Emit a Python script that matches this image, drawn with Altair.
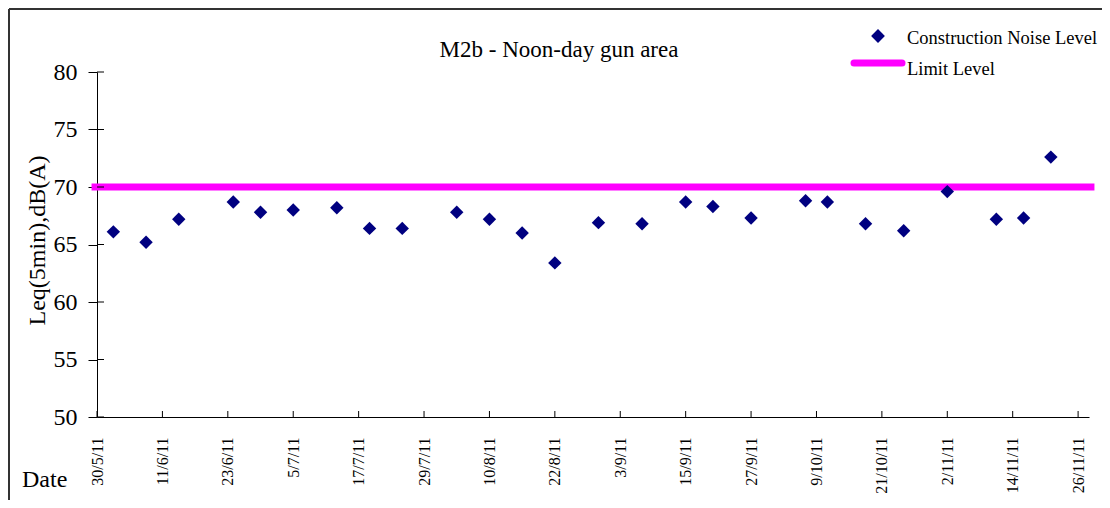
import altair as alt
import pandas as pd

FONT = "Liberation Serif"

# ---- data ----
dates = ["2011-06-02", "2011-06-08", "2011-06-14", "2011-06-24", "2011-06-29",
         "2011-07-05", "2011-07-13", "2011-07-19", "2011-07-25", "2011-08-04",
         "2011-08-10", "2011-08-16", "2011-08-22", "2011-08-30", "2011-09-07",
         "2011-09-15", "2011-09-20", "2011-09-27", "2011-10-07", "2011-10-11",
         "2011-10-18", "2011-10-25", "2011-11-02", "2011-11-11", "2011-11-16",
         "2011-11-21"]
levels = [66.1, 65.2, 67.2, 68.7, 67.8, 68.0, 68.2, 66.4, 66.4, 67.8,
          67.2, 66.0, 63.4, 66.9, 66.8, 68.7, 68.3, 67.3, 68.8, 68.7,
          66.8, 66.2, 69.6, 67.2, 67.3, 72.6]

limit_dates = ["2011-05-29", "2011-11-29"]
limit_values = [70, 70]

tick_dates = ["2011-05-30", "2011-06-11", "2011-06-23", "2011-07-05", "2011-07-17",
              "2011-07-29", "2011-08-10", "2011-08-22", "2011-09-03", "2011-09-15",
              "2011-09-27", "2011-10-09", "2011-10-21", "2011-11-02", "2011-11-14",
              "2011-11-26"]
x_domain = ["2011-05-30", "2011-11-28"]
y_ticks = [50, 55, 60, 65, 70, 75, 80]

title_text = "M2b - Noon-day gun area"
legend_labels = ["Construction Noise Level", "Limit Level"]
y_title = "Leq(5min),dB(A)"
x_title = "Date"

W, H = 992, 345
NAVY = "#000080"
MAGENTA = "#FF00FF"


def ms(d):
    return int(pd.Timestamp(d, tz="UTC").value // 10**6)


x_enc = alt.X(
    "date:T",
    scale=alt.Scale(type="utc", domain=[ms(d) for d in x_domain], nice=False),
    axis=alt.Axis(
        values=[ms(d) for d in tick_dates],
        labelExpr="utcFormat(datum.value, '%-d/%-m/%y')",
        labelAngle=270, labelAlign="right", labelBaseline="middle",
        labelFont=FONT, labelFontSize=16, labelColor="black",
        labelPadding=20, ticks=False, tickSize=0,
        domainColor="black", domainWidth=1, grid=False, title=None,
        labelOverlap=False, labelFlush=False,
    ),
)

y_enc = alt.Y(
    "level:Q",
    scale=alt.Scale(domain=[50, 80], nice=False, zero=False),
    axis=alt.Axis(
        values=y_ticks, tickSize=9, tickColor="black", tickWidth=1,
        labelPadding=11, labelFont=FONT, labelFontSize=24, labelColor="black",
        domainColor="black", domainWidth=1, grid=False,
        title=y_title, titleFont=FONT, titleFontSize=24, titleFontWeight="normal",
        titleColor="black", titleAngle=270, titleX=-60, titleY=168,
        titleAlign="center", titleBaseline="middle",
    ),
)

pts_df = pd.DataFrame({"date": dates, "level": levels})
lim_df = pd.DataFrame({"date": limit_dates, "level": limit_values})
xt_df = pd.DataFrame({"date": tick_dates})
yt_df = pd.DataFrame({"level": y_ticks})
one = pd.DataFrame({"k": [0]})

limit_line = alt.Chart(lim_df).mark_line(
    color=MAGENTA, strokeWidth=7, strokeCap="butt"
).encode(x=x_enc, y=y_enc)

points = alt.Chart(pts_df).mark_point(
    shape="diamond", filled=True, size=180, color=NAVY, opacity=1
).encode(x=x_enc, y=y_enc)

x_inner_ticks = alt.Chart(xt_df).mark_rule(color="black", strokeWidth=1).encode(
    x=x_enc, y=alt.value(H), y2=alt.value(H - 6)
)
y_inner_ticks = alt.Chart(yt_df).mark_rule(color="black", strokeWidth=1).encode(
    y=y_enc, x=alt.value(0), x2=alt.value(7)
)

border_left = alt.Chart(one).mark_rule(color="#333", strokeWidth=2).encode(
    x=alt.value(-88), y=alt.value(-63), y2=alt.value(H + 83)
)
border_top = alt.Chart(one).mark_rule(color="#333", strokeWidth=2).encode(
    x=alt.value(-88), x2=alt.value(W + 13), y=alt.value(-63)
)

title = alt.Chart(one).mark_text(
    text=title_text, font=FONT, fontSize=23, align="center",
    baseline="alphabetic", color="black"
).encode(x=alt.value(462), y=alt.value(-15))

date_label = alt.Chart(one).mark_text(
    text=x_title, font=FONT, fontSize=24, align="left",
    baseline="alphabetic", color="black"
).encode(x=alt.value(-75), y=alt.value(415))

leg_sym = alt.Chart(one).mark_point(
    shape="diamond", filled=True, size=190, color=NAVY, opacity=1
).encode(x=alt.value(781), y=alt.value(-36))
leg_line = alt.Chart(one).mark_rule(
    color=MAGENTA, strokeWidth=7, strokeCap="round"
).encode(x=alt.value(757), x2=alt.value(805), y=alt.value(-9))
leg_text1 = alt.Chart(one).mark_text(
    text=legend_labels[0], font=FONT, fontSize=18.5, align="left",
    baseline="alphabetic", color="black"
).encode(x=alt.value(810), y=alt.value(-28))
leg_text2 = alt.Chart(one).mark_text(
    text=legend_labels[1], font=FONT, fontSize=18.5, align="left",
    baseline="alphabetic", color="black"
).encode(x=alt.value(810), y=alt.value(3))

chart = alt.layer(
    border_left, border_top, limit_line, x_inner_ticks, y_inner_ticks, points,
    title, date_label, leg_sym, leg_line, leg_text1, leg_text2,
).properties(
    width=W, height=H,
    autosize=alt.AutoSizeParams(type="none"),
    padding={"left": 89, "top": 64, "right": 13, "bottom": 83},
    background="white",
).configure_view(strokeWidth=0)

chart.save("out.html", embed_options={"renderer": "svg", "actions": False})
